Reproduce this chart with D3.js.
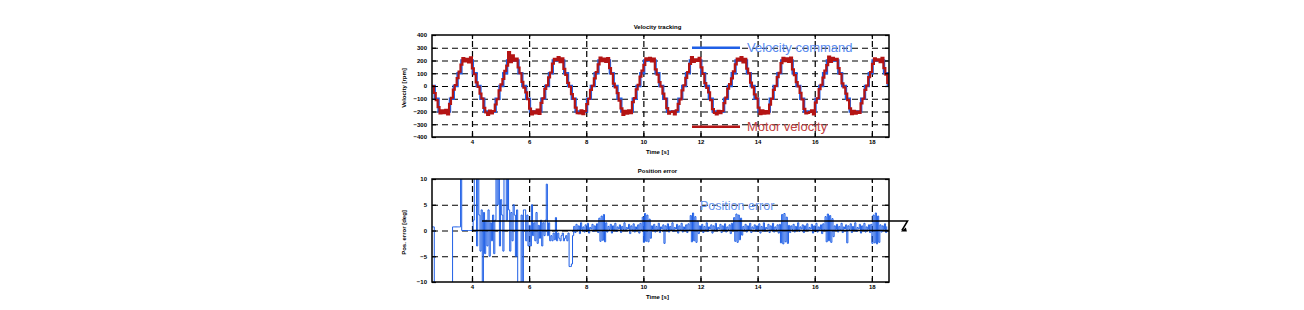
<!DOCTYPE html>
<html>
<head>
<meta charset="utf-8">
<script src="https://cdn.jsdelivr.net/npm/d3@7"></script>
<style>
body { margin: 0; background: #fff; }
text { font-family: "Liberation Sans", Arial, sans-serif; }
</style>
</head>
<body>
<svg id="chart" width="1304" height="310"></svg>
<script>
// Data
var timeTicks = [4, 6, 8, 10, 12, 14, 16, 18];
var velTicks = [-400, -300, -200, -100, 0, 100, 200, 300, 400];
var errTicks = [-10, -5, 0, 5, 10];

// velocity command: zero-order hold, one value per 0.1333 s from t = 2.563
var cmdStart = 2.563, cmdStep = 0.1333;
var velocityCommand = [
    0, -100, -200, -200, -200, -100,
    0, 100, 200, 200, 200, 100, 0, -100, -200, -200, -200, -100,
    0, 100, 200, 200, 200, 100, 0, -100, -200, -200, -200, -100,
    0, 100, 200, 200, 200, 100, 0, -100, -200, -200, -200, -100,
    0, 100, 200, 200, 200, 100, 0, -100, -200, -200, -200, -100,
    0, 100, 200, 200, 200, 100, 0, -100, -200, -200, -200, -100,
    0, 100, 200, 200, 200, 100, 0, -100, -200, -200, -200, -100,
    0, 100, 200, 200, 200, 100, 0, -100, -200, -200, -200, -100,
    0, 100, 200, 200, 200, 100, 0, -100, -200, -200, -200, -100,
    0, 100, 200, 200, 200, 100, 0, -100, -200, -200, -200, -100,
    0, 100, 200, 200, 200, 100, 0
];

// measured motor velocity, one value per 0.0667 s from t = 2.597
var motStart = 2.597, motStep = 0.0667;
var motorVelocity = [
    0,
    -55, -110, -165, -215, -190, -212, -188, -222, -140, -92, -28, 8, 62, 112, 168, 218, 192, 212, 186, 224, 138, 92, 28, -8,
    -60, -98, -172, -208, -226, -192, -214, -196, -145, -104, -35, 12, 55, 118, 160, 265, 188, 240, 198, 214, 145, 100, 32, -12,
    -50, -104, -178, -222, -198, -214, -186, -218, -132, -96, -22, 6, 68, 106, 176, 212, 202, 226, 188, 216, 135, 88, 24, -6,
    -64, -100, -170, -212, -214, -190, -220, -196, -142, -100, -30, 2, 60, 110, 170, 222, 194, 214, 190, 218, 140, 96, 18, -10,
    -56, -114, -176, -226, -194, -216, -190, -212, -126, -94, -26, 10, 74, 120, 166, 216, 204, 220, 192, 214, 130, 90, 30, -4,
    -60, -100, -174, -216, -204, -198, -222, -190, -140, -106, -34, 6, 64, 110, 174, 226, 190, 210, 196, 220, 146, 94, 22, -14,
    -50, -110, -182, -210, -222, -194, -212, -196, -134, -90, -20, 14, 60, 114, 170, 214, 200, 226, 186, 212, 136, 100, 26, -10,
    -66, -96, -170, -220, -190, -216, -196, -214, -146, -100, -30, 0, 70, 104, 180, 220, 194, 216, 190, 222, 130, 86, 30, -4,
    -54, -106, -180, -214, -210, -204, -190, -222, -130, -96, -24, 10, 66, 120, 164, 230, 190, 220, 204, 212, 140, 94, 20, -10,
    -60, -110, -176, -220, -194, -216, -200, -210, -136, -100, -30, 4, 70, 110, 174, 216, 200, 210, 188, 220, 140, 90, 24, -2
];

// position error, one value per 0.04 s from t = 2.6 (values beyond +-10 run off the axes)
var errStart = 2.6, errStep = 0.04;
var positionError = [
    0.7, 0.7,
    -12, -12, -12, -12, -12, -12, -12, -12, -12, -12, -12, -12, -12, -12, -12, -12,
    0.7, 0.7, 0.7, 0.7, 0.7, 0.7, 0.7,
    12,
    0, 0, 0, 0, 0, 0, 0, 0, 0, 0,
    2, 12, 12, -3, 12, 3, -4, 4, -12,
    3.5, -4.5, 2, -3, 4, -5, 1.5, -2, 3, -4.5, 2,
    12, 5, 12, -3, 6, 3, -4, 12, 12, 2, 12,
    4, -4, 3.5, -2, 5, 3, -5, 4, -12, -12, -12, 3, -12, 4,
    4, -2, 3, -3, 1, -3, 5, -1, 1.5, -2, 3.5, -2.5, 1, -1.5, 2, -3, 1.5, -1, 2, 9, -1, 1.5, -2,
    -1, -2, -0.5, -1.8, 2.5, -2, -0.5, -1.5, -2, -1, -0.5, -2, -1.5, -1, -2, -0.5, -7, -7, -6.5, -1,
    0.8, -0.4, 1.2, 0.1, 0.9, -0.6, 1.5, 0.2, 0.7, -0.3, 1.1, 0, 1.4, -0.5, 0.6, 0.3, 1.2, -0.2, 0.9, 0.1,
    1.3, -0.4, 2.4, -2.1, 2.8, -1.9, 3.1, -2.2, 1.5, -0.3, 0.8, 0.2, 1.2, -0.5, 0.9, 0.1, 1.4, -0.2, 0.7, 0.3,
    1.1, -0.4, 0.8, 0.2, 1.5, -0.1, 0.6, 0.3, 1.2, -0.6, 0.9, 0.1, 1.3, -0.3, 0.7, 0.2, 1.1, -0.5, 1.4, 0.1,
    2.6, -2.3, 3.3, -2.1, 3.0, -2.2, 2.2, -1.5, 0.9, 0.2, 1.2, -0.3, 0.8, 0.1, 1.4, -0.4, 0.7, 0.3, 1.1, -2.5,
    0.9, 0.2, 1.3, -0.3, 0.8, 0.1, 1.5, -0.2, 0.6, 0.3, 1.2, -0.5, 0.9, 0.1, 1.4, -0.3, 0.7, 0.2, 1.1, -0.4,
    1.3, 0.1, 2.9, -2.2, 3.4, -2.0, 2.7, -2.3, 1.8, -0.6, 0.9, 0.2, 1.2, -0.4, 0.8, 0.1, 1.5, -0.2, 0.7, 0.3,
    1.1, -0.5, 0.9, 0.2, 1.4, -0.1, 0.6, 0.3, 1.2, -0.4, 0.9, 0.1, 1.3, -0.3, 0.7, 0.2, 1.1, -0.6, 1.4, 0.1,
    2.5, -2.1, 3.2, -2.3, 3.0, -1.8, 2.4, -0.9, 0.8, 0.2, 1.2, -0.3, 0.9, 0.1, 1.4, -0.4, 0.7, 0.3, 1.1, -0.2,
    0.9, 0.2, 1.3, -0.5, 0.8, 0.1, 1.5, -0.2, 0.6, 0.3, 1.2, -0.4, 0.9, 0.1, 1.4, -0.3, 0.7, 0.2, 1.1, -0.5,
    1.2, -2.4, 3.1, -2.6, 3.3, -2.2, 2.6, -2.5, 1.0, -0.4, 0.9, 0.2, 1.2, -0.3, 0.8, 0.1, 1.5, -0.2, 0.7, 0.3,
    1.1, -0.4, 0.9, 0.2, 1.3, -0.1, 0.6, 0.3, 1.2, -0.5, 0.9, 0.1, 1.4, -0.3, 0.7, 0.2, 1.1, -0.6, 1.3, 0.1,
    2.7, -2.2, 3.2, -2.0, 2.9, -2.3, 2.3, -1.2, 0.9, 0.2, 1.2, -0.3, 0.8, 0.1, 1.4, -0.4, 0.7, 0.3, 1.1, -2.4,
    0.9, 0.2, 1.3, -0.4, 0.8, 0.1, 1.5, -0.2, 0.6, 0.3, 1.2, -0.5, 0.9, 0.1, 1.4, -0.3, 0.7, 0.2, 1.1, -0.4,
    1.2, -2.5, 3.0, -2.4, 3.4, -2.6, 2.8, -2.3, 1.1, -0.3, 0.9, 0.2, 1.3, -0.4, 0.8
];

// the black callout line drawn over the error plot (time, error)
var errCallout = [[4.35, 1.85], [19.25, 1.85], [19.05, 0]];

var blue = '#1f5fe6';
var red = '#b41414';

var svg = d3.select('#chart');
var x = d3.scaleLinear().domain([2.6, 18.6]).range([432, 889]);
var yVel = d3.scaleLinear().domain([-400, 400]).range([137, 35]);
var yErr = d3.scaleLinear().domain([-10, 10]).range([282, 179]);

function series(values, t0, dt) {
    return values.map((v, i) => ({ t: t0 + i * dt, v: v }));
}

function panel(id, y, yTicks, title, ylabel) {
    var g = svg.append('g').attr('id', id);
    var x0 = x.range()[0], x1 = x.range()[1];
    var yb = y.range()[0], yt = y.range()[1];

    svg.append('clipPath').attr('id', id + '-clip')
      .append('rect').attr('x', x0).attr('y', yt).attr('width', x1 - x0).attr('height', yb - yt);

    // dashed grid
    var gx = g.append('g').attr('transform', `translate(0,${yb})`)
      .call(d3.axisBottom(x).tickValues(timeTicks).tickSize(-(yb - yt)).tickFormat(''));
    var gy = g.append('g').attr('transform', `translate(${x0},0)`)
      .call(d3.axisLeft(y).tickValues(yTicks.slice(1, -1)).tickSize(-(x1 - x0)).tickFormat(''));
    [gx, gy].forEach((a) => {
        a.select('.domain').remove();
        a.selectAll('line').attr('stroke', '#000').attr('stroke-width', 1.2).attr('stroke-dasharray', '6,4');
    });

    var data = g.append('g').attr('clip-path', `url(#${id}-clip)`);

    // axes, ticks pointing inward
    var left = g.append('g').attr('transform', `translate(${x0},0)`)
      .call(d3.axisLeft(y).tickValues(yTicks).tickSizeInner(-4).tickSizeOuter(0).tickPadding(5));
    var bottom = g.append('g').attr('transform', `translate(0,${yb})`)
      .call(d3.axisBottom(x).tickValues(timeTicks).tickSizeInner(-4).tickSizeOuter(0).tickPadding(3));
    var top = g.append('g').attr('transform', `translate(0,${yt})`)
      .call(d3.axisTop(x).tickValues(timeTicks).tickSizeInner(-4).tickSizeOuter(0).tickFormat(''));
    var right = g.append('g').attr('transform', `translate(${x1},0)`)
      .call(d3.axisRight(y).tickValues(yTicks).tickSizeInner(-4).tickSizeOuter(0).tickFormat(''));
    [left, bottom, top, right].forEach((a) => {
        a.select('.domain').remove();
        a.selectAll('line').attr('stroke', '#000').attr('stroke-width', 1.2);
        a.selectAll('text').attr('font-size', 6).attr('font-weight', 'bold').attr('fill', '#000');
    });

    g.append('rect').attr('x', x0).attr('y', yt).attr('width', x1 - x0).attr('height', yb - yt)
      .attr('fill', 'none').attr('stroke', '#000').attr('stroke-width', 1.5);

    g.append('text').attr('x', (x0 + x1) / 2 - 3).attr('y', yt - 6).attr('text-anchor', 'middle')
      .attr('font-size', 6).attr('font-weight', 'bold').text(title);
    g.append('text').attr('x', (x0 + x1) / 2 - 3).attr('y', yb + 17).attr('text-anchor', 'middle')
      .attr('font-size', 6).attr('font-weight', 'bold').text('Time [s]');
    g.append('text').attr('transform', `translate(406,${(yb + yt) / 2 + 2}) rotate(-90)`)
      .attr('text-anchor', 'middle').attr('font-size', 6).attr('font-weight', 'bold').text(ylabel);

    return { g: g, data: data };
}

var stepLine = (y) => d3.line().curve(d3.curveStepAfter).x((d) => x(d.t)).y((d) => y(d.v));

// --- velocity panel ---
var p1 = panel('vel', yVel, velTicks, 'Velocity tracking', 'Velocity [rpm]');

var cmd = series(velocityCommand, cmdStart, cmdStep);
p1.data.append('path').datum(cmd)
  .attr('d', stepLine(yVel))
  .attr('fill', 'none').attr('stroke', blue).attr('stroke-width', 2.4);

var mot = series(motorVelocity, motStart, motStep);
p1.data.append('path').datum(mot)
  .attr('d', stepLine(yVel))
  .attr('fill', 'none').attr('stroke', red).attr('stroke-width', 2.2);

// legend entries sit at fixed spots inside the axes
var legend = [
    { label: 'Velocity command', color: blue, text: '#5b8cf0', v: 300 },
    { label: 'Motor velocity', color: red, text: '#c24040', v: -320 },
];
legend.forEach((l) => {
    p1.g.append('line').attr('x1', 692).attr('x2', 740)
      .attr('y1', yVel(l.v)).attr('y2', yVel(l.v))
      .attr('stroke', l.color).attr('stroke-width', 2.5);
    p1.g.append('text').attr('x', 747).attr('y', yVel(l.v) + 4.5)
      .attr('font-size', 13).attr('fill', l.text).text(l.label);
});

// --- position error panel ---
var p2 = panel('err', yErr, errTicks, 'Position error', 'Pos. error [deg]');
var err = series(positionError, errStart, errStep);
p2.data.append('path').datum(err)
  .attr('d', stepLine(yErr))
  .attr('fill', 'none').attr('stroke', blue).attr('stroke-width', 1);

p2.g.append('line').attr('x1', x(4)).attr('x2', x(18.6))
  .attr('y1', yErr(0)).attr('y2', yErr(0))
  .attr('stroke', '#000').attr('stroke-width', 1.5);
p2.g.append('path').datum(errCallout)
  .attr('d', d3.line().x((d) => x(d[0])).y((d) => yErr(d[1])))
  .attr('fill', 'none').attr('stroke', '#000').attr('stroke-width', 1.5);
var tip = errCallout[2];
p2.g.append('path')
  .attr('d', `M${x(tip[0]) - 1},${yErr(tip[1]) + 1} l5,-4 l1,4 z`)
  .attr('fill', '#000');

p2.g.append('text').attr('x', 700).attr('y', yErr(5) + 5)
  .attr('font-size', 12.5).attr('fill', '#6896f0').text('Position error');
</script>
</body>
</html>
